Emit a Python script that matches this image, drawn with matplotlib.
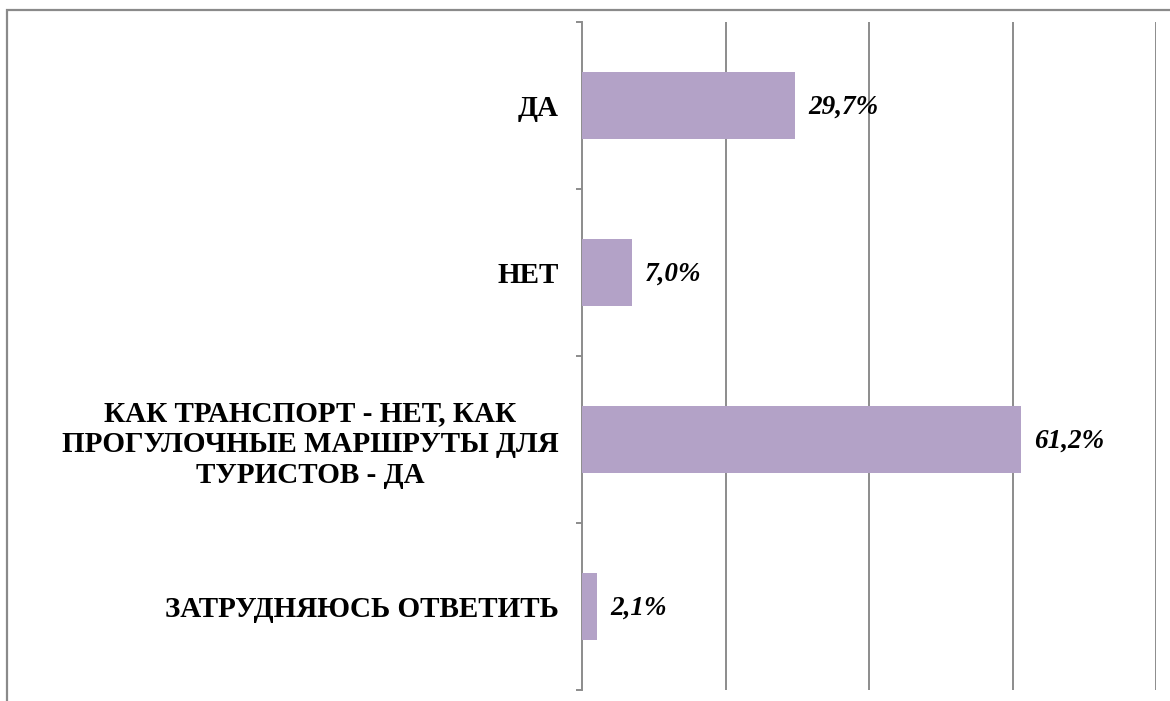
import matplotlib
matplotlib.use("Agg")
import matplotlib.pyplot as plt
from matplotlib.patches import Rectangle
import numpy as np

categories = ["ДА", "НЕТ", "КАК ТРАНСПОРТ - НЕТ, КАК\nПРОГУЛОЧНЫЕ МАРШРУТЫ ДЛЯ\nТУРИСТОВ - ДА", "ЗАТРУДНЯЮСЬ ОТВЕТИТЬ"]
values = [29.7, 7.0, 61.2, 2.1]
value_labels = ["29,7%", "7,0%", "61,2%", "2,1%"]

W, H = 1170, 701
fig = plt.figure(figsize=(W/100, H/100), dpi=100)
fig.patch.set_facecolor("white")

# outer frame
fig.patches.append(Rectangle((7/W, -0.2), 1.3, 1.2 - 10/H, transform=fig.transFigure,
                             fill=False, edgecolor="#8a8a8a", linewidth=1.6, zorder=0))

ax = fig.add_axes([582/W, 1 - 690/H, (1156-582)/W, (690-22)/H])
y = np.arange(len(categories))
ax.barh(y, values, height=0.4, color="#B3A2C7", zorder=3)
ax.set_xlim(0, 80)
ax.set_ylim(len(categories) - 0.5, -0.5)
ax.set_xticks([20, 40, 60, 80])
ax.tick_params(axis="x", length=0, labelbottom=False)
ax.grid(axis="x", color="#8c8c8c", linewidth=1.4, zorder=1)
for s in ["top", "right", "bottom"]:
    ax.spines[s].set_visible(False)
ax.spines["left"].set_color("#8c8c8c")
ax.spines["left"].set_linewidth(1.4)

ax.set_yticks(y)
ax.set_yticklabels(categories, fontfamily="Liberation Serif", fontweight="bold",
                   fontsize=21, multialignment="center", linespacing=1.18)
ax.tick_params(axis="y", which="major", length=0, pad=17)
ax.set_yticks(np.arange(-0.5, len(categories)), minor=True)
ax.tick_params(axis="y", which="minor", length=4.5, color="#8c8c8c", width=1.4, direction="out")

for yi, v, lab in zip(y, values, value_labels):
    ax.annotate(lab, (v, yi), xytext=(13, -2), textcoords="offset pixels",
                va="center", ha="left", fontfamily="Liberation Serif", fontweight="bold",
                fontstyle="italic", fontsize=19.5, zorder=4)

fig.savefig("out.png", dpi=100)
